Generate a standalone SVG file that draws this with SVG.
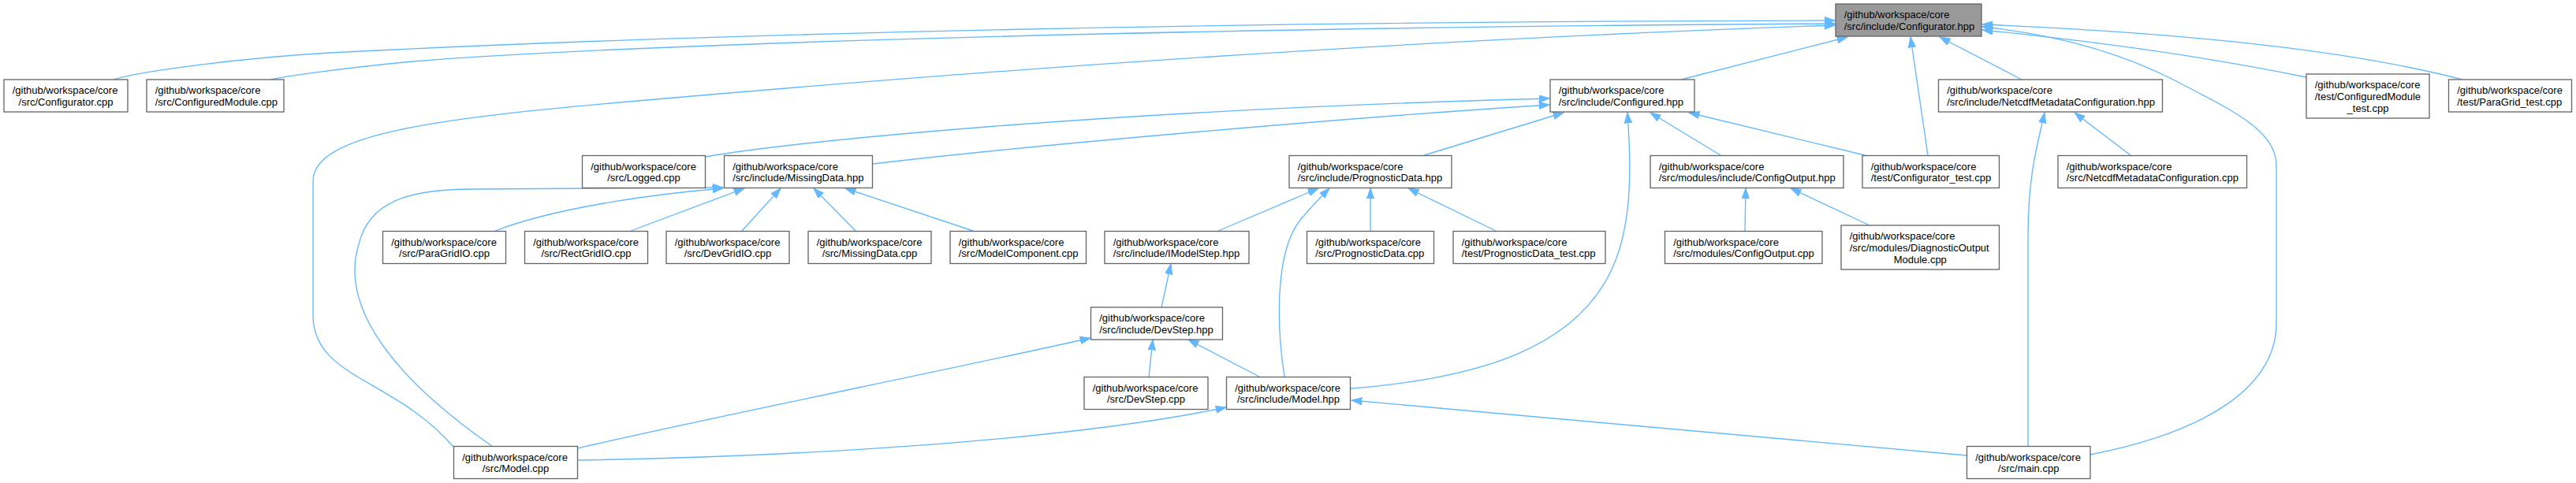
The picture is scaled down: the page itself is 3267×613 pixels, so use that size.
<svg xmlns="http://www.w3.org/2000/svg" width="3267" height="613" viewBox="0 0 3267 613">
<style>
.n{fill:#ffffff;stroke:#666666;stroke-width:1.33}
.root{fill:#999999;stroke:#666666;stroke-width:1.33}
.t{font-family:"Liberation Sans",Arial,Helvetica,sans-serif;font-size:13px;fill:#000000}
.m{text-anchor:middle}
.e{fill:none;stroke:#63b8ff;stroke-width:1.33;marker-end:url(#ah)}
</style>
<defs>
<marker id="ah" markerUnits="userSpaceOnUse" markerWidth="14" markerHeight="10" refX="13.3" refY="4.7" orient="auto">
<path d="M0,0 L13.3,4.7 L0,9.4 z" fill="#63b8ff" stroke="#63b8ff" stroke-width="1"/>
</marker>
</defs>
<rect width="3267" height="613" fill="#ffffff"/>
<g id="edges">
<path class="e" d="M144,101 C175,91 300,74 418,67 C900,42 1600,27 2327,26"/>
<path class="e" d="M343,101 C360,97 430,87 523,78 C800,56 1500,35 2327,30"/>
<path class="e" d="M575,567 C500,480 397,480 397,400 L397,230 C397,170 550,150 820,127 C1300,85 1800,50 2327,32"/>
<path class="e" d="M2132,101 L2343,47"/>
<path class="e" d="M2445,197 L2423,47"/>
<path class="e" d="M2564,101 L2460,47"/>
<path class="e" d="M2651,577 C2800,548 2887,490 2887,410 L2887,210 C2887,165 2830,140 2760,103 C2700,72 2620,45 2514,34"/>
<path class="e" d="M2925,98 Q2750,62 2514,38"/>
<path class="e" d="M3123,101 Q2920,48 2514,31"/>
<path class="e" d="M895,199 C1000,180 1400,140 1965,125"/>
<path class="e" d="M1107,208 C1300,185 1700,150 1965,133"/>
<path class="e" d="M1806,197 L1983,143"/>
<path class="e" d="M1713,493 C1880,480 2000,440 2045,340 C2072,280 2068,200 2064,143"/>
<path class="e" d="M2182,197 L2093,143"/>
<path class="e" d="M2365,197 L2142,143"/>
<path class="e" d="M625,567 C500,480 430,390 455,310 C468,255 520,240 600,240 L917,238"/>
<path class="e" d="M628,293 C700,265 820,247 917,239"/>
<path class="e" d="M800,293 L944,239"/>
<path class="e" d="M941,293 L990,239"/>
<path class="e" d="M1085,293 L1032,239"/>
<path class="e" d="M1234,293 L1072,239"/>
<path class="e" d="M1545,293 L1672,239"/>
<path class="e" d="M1629,478 C1620,420 1615,320 1650,278 C1665,260 1675,250 1686,239"/>
<path class="e" d="M1738,293 L1738,239"/>
<path class="e" d="M1897,293 L1786,239"/>
<path class="e" d="M2213,293 L2214,239"/>
<path class="e" d="M2371,286 L2271,239"/>
<path class="e" d="M2702,197 L2631,143"/>
<path class="e" d="M2572,566 L2572,300 C2572,220 2585,180 2593,143"/>
<path class="e" d="M1473,390 L1485,335"/>
<path class="e" d="M1457,478 L1462,431"/>
<path class="e" d="M1597,478 L1507,431"/>
<path class="e" d="M732,569 C900,530 1200,470 1383,429"/>
<path class="e" d="M732,584 C1000,580 1350,560 1555,517"/>
<path class="e" d="M2494,578 L1714,508"/>
</g>
<g id="node_configurator_hpp"><rect class="root" x="2328" y="5" width="185" height="41"/><text class="t" x="2338.7" y="23">/github/workspace/core</text><text class="t" x="2338.7" y="37.7">/src/include/Configurator.hpp</text></g>
<g id="node_configurator_cpp"><rect class="n" x="5" y="101" width="157" height="41"/><text class="t" x="15.7" y="119">/github/workspace/core</text><text class="t m" x="83.5" y="133.7">/src/Configurator.cpp</text></g>
<g id="node_configuredmodule_cpp"><rect class="n" x="186" y="101" width="174" height="41"/><text class="t" x="196.7" y="119">/github/workspace/core</text><text class="t" x="196.7" y="133.7">/src/ConfiguredModule.cpp</text></g>
<g id="node_configured_hpp"><rect class="n" x="1966" y="101" width="183" height="41"/><text class="t" x="1976.7" y="119">/github/workspace/core</text><text class="t" x="1976.7" y="133.7">/src/include/Configured.hpp</text></g>
<g id="node_netcdfmeta_hpp"><rect class="n" x="2458.5" y="101" width="284" height="41"/><text class="t" x="2469.2" y="119">/github/workspace/core</text><text class="t" x="2469.2" y="133.7">/src/include/NetcdfMetadataConfiguration.hpp</text></g>
<g id="node_configuredmodule_test"><rect class="n" x="2925" y="94" width="156" height="56"/><text class="t" x="2935.7" y="112.3">/github/workspace/core</text><text class="t" x="2935.7" y="127">/test/ConfiguredModule</text><text class="t m" x="3003" y="141.7">_test.cpp</text></g>
<g id="node_paragrid_test"><rect class="n" x="3105.5" y="101" width="156" height="41"/><text class="t" x="3116.2" y="119">/github/workspace/core</text><text class="t" x="3116.2" y="133.7">/test/ParaGrid_test.cpp</text></g>
<g id="node_logged_cpp"><rect class="n" x="738.5" y="197.5" width="156" height="41"/><text class="t" x="749.2" y="215.5">/github/workspace/core</text><text class="t m" x="816.5" y="230.2">/src/Logged.cpp</text></g>
<g id="node_missingdata_hpp"><rect class="n" x="918.5" y="197.5" width="188" height="41"/><text class="t" x="929.2" y="215.5">/github/workspace/core</text><text class="t" x="929.2" y="230.2">/src/include/MissingData.hpp</text></g>
<g id="node_prognosticdata_hpp"><rect class="n" x="1635" y="197.5" width="206" height="41"/><text class="t" x="1645.7" y="215.5">/github/workspace/core</text><text class="t" x="1645.7" y="230.2">/src/include/PrognosticData.hpp</text></g>
<g id="node_configoutput_hpp"><rect class="n" x="2093" y="197.5" width="245" height="41"/><text class="t" x="2103.7" y="215.5">/github/workspace/core</text><text class="t" x="2103.7" y="230.2">/src/modules/include/ConfigOutput.hpp</text></g>
<g id="node_configurator_test"><rect class="n" x="2362" y="197.5" width="173.5" height="41"/><text class="t" x="2372.7" y="215.5">/github/workspace/core</text><text class="t" x="2372.7" y="230.2">/test/Configurator_test.cpp</text></g>
<g id="node_netcdfmeta_cpp"><rect class="n" x="2610" y="197.5" width="239.5" height="41"/><text class="t" x="2620.7" y="215.5">/github/workspace/core</text><text class="t" x="2620.7" y="230.2">/src/NetcdfMetadataConfiguration.cpp</text></g>
<g id="node_paragridio_cpp"><rect class="n" x="485.5" y="293.5" width="156" height="41"/><text class="t" x="496.2" y="311.5">/github/workspace/core</text><text class="t m" x="563.5" y="326.2">/src/ParaGridIO.cpp</text></g>
<g id="node_rectgridio_cpp"><rect class="n" x="665.5" y="293.5" width="156" height="41"/><text class="t" x="676.2" y="311.5">/github/workspace/core</text><text class="t m" x="743.5" y="326.2">/src/RectGridIO.cpp</text></g>
<g id="node_devgridio_cpp"><rect class="n" x="845" y="293.5" width="156" height="41"/><text class="t" x="855.7" y="311.5">/github/workspace/core</text><text class="t m" x="923" y="326.2">/src/DevGridIO.cpp</text></g>
<g id="node_missingdata_cpp"><rect class="n" x="1025" y="293.5" width="156" height="41"/><text class="t" x="1035.7" y="311.5">/github/workspace/core</text><text class="t m" x="1103" y="326.2">/src/MissingData.cpp</text></g>
<g id="node_modelcomponent_cpp"><rect class="n" x="1205" y="293.5" width="172.5" height="41"/><text class="t" x="1215.7" y="311.5">/github/workspace/core</text><text class="t" x="1215.7" y="326.2">/src/ModelComponent.cpp</text></g>
<g id="node_imodelstep_hpp"><rect class="n" x="1401" y="293.5" width="183" height="41"/><text class="t" x="1411.7" y="311.5">/github/workspace/core</text><text class="t" x="1411.7" y="326.2">/src/include/IModelStep.hpp</text></g>
<g id="node_prognosticdata_cpp"><rect class="n" x="1657.5" y="293.5" width="161" height="41"/><text class="t" x="1668.2" y="311.5">/github/workspace/core</text><text class="t" x="1668.2" y="326.2">/src/PrognosticData.cpp</text></g>
<g id="node_prognosticdata_test"><rect class="n" x="1843" y="293.5" width="193" height="41"/><text class="t" x="1853.7" y="311.5">/github/workspace/core</text><text class="t" x="1853.7" y="326.2">/test/PrognosticData_test.cpp</text></g>
<g id="node_configoutput_cpp"><rect class="n" x="2111.5" y="293.5" width="199.5" height="41"/><text class="t" x="2122.2" y="311.5">/github/workspace/core</text><text class="t" x="2122.2" y="326.2">/src/modules/ConfigOutput.cpp</text></g>
<g id="node_diagnosticoutput_cpp"><rect class="n" x="2335" y="286" width="200.5" height="56"/><text class="t" x="2345.7" y="304.3">/github/workspace/core</text><text class="t" x="2345.7" y="319">/src/modules/DiagnosticOutput</text><text class="t m" x="2435.25" y="333.7">Module.cpp</text></g>
<g id="node_devstep_hpp"><rect class="n" x="1383.5" y="390" width="167" height="41"/><text class="t" x="1394.2" y="408">/github/workspace/core</text><text class="t" x="1394.2" y="422.7">/src/include/DevStep.hpp</text></g>
<g id="node_devstep_cpp"><rect class="n" x="1375" y="478.5" width="157" height="41"/><text class="t" x="1385.7" y="496.5">/github/workspace/core</text><text class="t m" x="1453.5" y="511.2">/src/DevStep.cpp</text></g>
<g id="node_model_hpp"><rect class="n" x="1555.5" y="478.5" width="157" height="41"/><text class="t" x="1566.2" y="496.5">/github/workspace/core</text><text class="t m" x="1634" y="511.2">/src/include/Model.hpp</text></g>
<g id="node_model_cpp"><rect class="n" x="575.5" y="566.5" width="157" height="41"/><text class="t" x="586.2" y="584.5">/github/workspace/core</text><text class="t m" x="654" y="599.2">/src/Model.cpp</text></g>
<g id="node_main_cpp"><rect class="n" x="2494.5" y="566.5" width="156.5" height="41"/><text class="t" x="2505.2" y="584.5">/github/workspace/core</text><text class="t m" x="2572.75" y="599.2">/src/main.cpp</text></g>
</svg>
